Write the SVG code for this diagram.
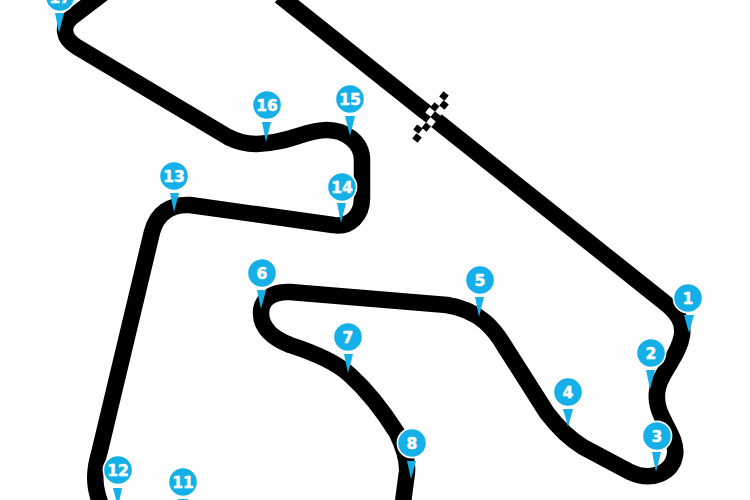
<svg xmlns="http://www.w3.org/2000/svg" width="750" height="500" viewBox="0 0 750 500">
<style>
.track{fill:none;stroke:#000;stroke-width:16.5;stroke-linejoin:round}
.disc{fill:#15b0e8;stroke:#fff;stroke-width:1.6}
.tip{fill:#15b0e8}
.num{font-family:"DejaVu Sans",sans-serif;font-weight:700;font-size:15.5px;fill:#fff;text-anchor:middle;stroke:#fff;stroke-width:.5}
.bk{fill:#000}.wh{fill:#fff}
</style>
<defs><rect id="sq" x="-3.4" y="-3.4" width="6.8" height="6.8" transform="rotate(38)"/></defs>
<rect width="750" height="500" fill="#fff"/>
<g id="connectors">
<path class="track" d="M280,-4 L664,302 C677,312 684,322 682,335 C680,350 670,362 662,377 C655,390 655,403 662,417 C668,430 677,442 675,455 C672,473 652,482 630,472 L583,447 C570,439 560,430 547,413 L505,347 C495,330 480,310 447,305 L290,292 C272,291 261,300 261,313 C261,327 272,338 290,345 C315,353 337,363 350,375 C370,393 385,414 397,433 C404,448 408,460 407,472 L402,510 L390,530 L115,530 L101,505 C93,485 94,470 100,450 L152,232 C157,213 170,204 190,205 L333,225 C350,228 362,215 362,198 L362,160 C362,142 345,130 327,130 C305,130 290,143 257,144 C245,144 238,142 228,137 L77,47 C62,38 62,25 72,17 L110,-12"/>
</g>
<g id="start-line">
<use href="#sq" class="bk" x="444" y="96"/><use href="#sq" class="bk" x="444" y="105"/>
<use href="#sq" class="bk" x="435" y="107"/><use href="#sq" class="bk" x="426" y="127"/>
<use href="#sq" class="bk" x="418" y="129"/><use href="#sq" class="bk" x="417" y="138"/>
<use href="#sq" class="wh" x="430" y="112"/><use href="#sq" class="wh" x="431" y="122"/>
<use href="#sq" class="wh" x="440" y="111"/><use href="#sq" class="wh" x="421" y="123"/>
</g>
<g id="turn-17"><path class="tip" d="M55,13H64L59,33Z"/><circle class="disc" cx="60" cy="-3" r="14.6"/><text class="num" x="60" y="2.600">17</text></g>
<g id="turn-1"><path class="tip" d="M684,315H694L689,333Z"/><circle class="disc" cx="688" cy="298" r="14.6"/><text class="num" x="688" y="303.600">1</text></g>
<g id="turn-2"><path class="tip" d="M646,370H655L650,389Z"/><circle class="disc" cx="651" cy="353" r="14.6"/><text class="num" x="651" y="358.600">2</text></g>
<g id="turn-3"><path class="tip" d="M652,452H661L656,472Z"/><circle class="disc" cx="657" cy="436" r="14.6"/><text class="num" x="657" y="441.600">3</text></g>
<g id="turn-4"><path class="tip" d="M563,409H573L568,427Z"/><circle class="disc" cx="568" cy="392" r="14.6"/><text class="num" x="568" y="397.600">4</text></g>
<g id="turn-5"><path class="tip" d="M475,297H484L479,317Z"/><circle class="disc" cx="480" cy="280" r="14.6"/><text class="num" x="480" y="285.600">5</text></g>
<g id="turn-6"><path class="tip" d="M257,290H266L261,309Z"/><circle class="disc" cx="262" cy="273" r="14.6"/><text class="num" x="262" y="278.600">6</text></g>
<g id="turn-7"><path class="tip" d="M344,354H353L348,373Z"/><circle class="disc" cx="348" cy="337" r="14.6"/><text class="num" x="348" y="342.600">7</text></g>
<g id="turn-8"><path class="tip" d="M407,461H416L411,479Z"/><circle class="disc" cx="412" cy="443" r="14.6"/><text class="num" x="412" y="448.600">8</text></g>
<g id="turn-11"><path class="tip" d="M178,499H188L183,518Z"/><circle class="disc" cx="183" cy="482" r="14.6"/><text class="num" x="183" y="487.600">11</text></g>
<g id="turn-12"><path class="tip" d="M113,488H122L118,507Z"/><circle class="disc" cx="118" cy="470" r="14.6"/><text class="num" x="118" y="475.600">12</text></g>
<g id="turn-13"><path class="tip" d="M170,193H179L174,212Z"/><circle class="disc" cx="174" cy="176" r="14.6"/><text class="num" x="174" y="181.600">13</text></g>
<g id="turn-14"><path class="tip" d="M337,203H346L341,223Z"/><circle class="disc" cx="342" cy="187" r="14.6"/><text class="num" x="342" y="192.600">14</text></g>
<g id="turn-15"><path class="tip" d="M345,116H355L350,136Z"/><circle class="disc" cx="350" cy="99" r="14.6"/><text class="num" x="350" y="104.600">15</text></g>
<g id="turn-16"><path class="tip" d="M262,122H271L266,142Z"/><circle class="disc" cx="267" cy="105" r="14.6"/><text class="num" x="267" y="110.600">16</text></g>
</svg>
